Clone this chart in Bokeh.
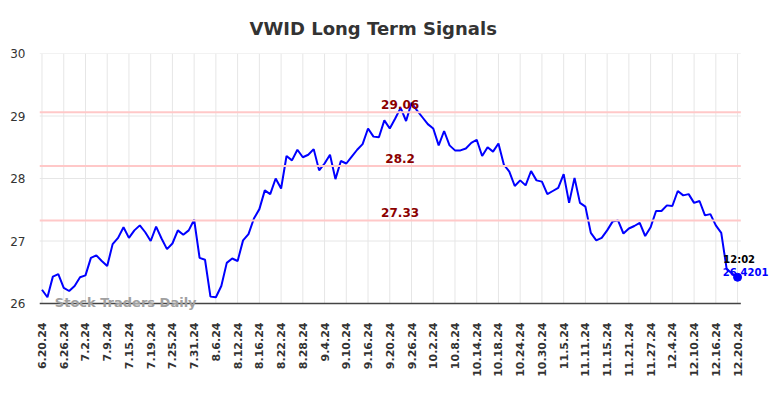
from bokeh.plotting import figure
from bokeh.models import Range1d, Label, FixedTicker
from bokeh.embed import file_html
from bokeh.resources import INLINE

tick_labels = ["6.20.24", "6.26.24", "7.2.24", "7.9.24", "7.15.24", "7.19.24", "7.25.24", "7.31.24",
               "8.6.24", "8.12.24", "8.16.24", "8.22.24", "8.28.24", "9.4.24", "9.10.24", "9.16.24",
               "9.20.24", "9.26.24", "10.2.24", "10.8.24", "10.14.24", "10.18.24", "10.24.24", "10.30.24",
               "11.5.24", "11.11.24", "11.15.24", "11.21.24", "11.27.24", "12.4.24", "12.10.24", "12.16.24",
               "12.20.24"]
days_per_tick = 4

prices = [26.22, 26.10, 26.43, 26.47, 26.25, 26.20, 26.28, 26.42, 26.45, 26.73,
          26.77, 26.68, 26.60, 26.95, 27.05, 27.22, 27.05, 27.17, 27.25, 27.14,
          27.00, 27.23, 27.04, 26.87, 26.96, 27.17, 27.10, 27.17, 27.34, 26.73,
          26.70, 26.11, 26.10, 26.28, 26.65, 26.72, 26.68, 27.01, 27.11, 27.36,
          27.51, 27.81, 27.75, 28.00, 27.84, 28.36, 28.29, 28.46, 28.34, 28.38,
          28.47, 28.13, 28.24, 28.38, 27.99, 28.28, 28.24, 28.35, 28.46, 28.55,
          28.80, 28.67, 28.66, 28.93, 28.80, 28.96, 29.13, 28.92, 29.21, 29.09,
          28.98, 28.87, 28.80, 28.53, 28.76, 28.53, 28.45, 28.45, 28.48, 28.57,
          28.62, 28.36, 28.50, 28.43, 28.56, 28.22, 28.11, 27.88, 27.97, 27.89,
          28.12, 27.97, 27.95, 27.75, 27.80, 27.85, 28.07, 27.61, 28.01, 27.61,
          27.55, 27.13, 27.01, 27.05, 27.17, 27.31, 27.33, 27.12, 27.20, 27.24,
          27.29, 27.08, 27.22, 27.48, 27.48, 27.57, 27.56, 27.80, 27.73, 27.75,
          27.61, 27.64, 27.41, 27.43, 27.25, 27.13, 26.55, 26.48, 26.42]

signal_levels = [29.06, 28.2, 27.33]
last_time = "12:02"
last_value_text = "26.4201"
y_ticks = [26, 27, 28, 29, 30]

xs = list(range(len(prices)))
tick_pos = [i * days_per_tick for i in range(len(tick_labels))]

FONT = "DejaVu Sans"

# visible plotting area (in data units); the frame is a bit larger so that
# end-of-series labels and the watermark are not clipped
X_LO, X_HI = -0.46, 128.6
Y_LO, Y_HI = y_ticks[0], y_ticks[-1]

p = figure(width=774, height=382, output_backend="svg", toolbar_location=None,
           x_range=Range1d(X_LO, X_LO + 734 / 5.434), y_range=Range1d(Y_LO - 8 / 62.5, Y_HI),
           min_border_left=39, min_border_right=1, min_border_top=53, min_border_bottom=71)
p.outline_line_color = None
p.background_fill_color = "white"
p.border_fill_color = "white"

p.title.text = "VWID Long Term Signals"
p.title.text_font = FONT
p.title.text_font_size = "18px"
p.title.text_font_style = "bold"
p.title.text_color = "#333333"
p.title.align = "left"
p.title.offset = 210
p.title.standoff = 30

# axes
p.xaxis.ticker = FixedTicker(ticks=tick_pos)
p.xaxis.major_label_overrides = {t: l for t, l in zip(tick_pos, tick_labels)}
p.xaxis.major_label_orientation = 1.5708
p.xaxis.major_label_text_font = FONT
p.xaxis.major_label_text_font_size = "11px"
p.xaxis.major_label_text_font_style = "bold"
p.xaxis.major_label_text_color = "#333333"
p.xaxis.major_tick_line_color = None
p.xaxis.minor_tick_line_color = None
p.xaxis.major_tick_out = 0
p.xaxis.minor_tick_out = 0
p.xaxis.major_label_standoff = 11
p.xaxis.axis_line_color = None

p.yaxis.ticker = FixedTicker(ticks=y_ticks)
p.yaxis.major_label_text_font = FONT
p.yaxis.major_label_text_font_size = "12px"
p.yaxis.major_label_text_color = "#333333"
p.yaxis.axis_line_color = None
p.yaxis.major_tick_line_color = None
p.yaxis.minor_tick_line_color = None
p.yaxis.major_tick_out = 0
p.yaxis.minor_tick_out = 0
p.yaxis.major_label_standoff = 14

p.xgrid.visible = False
p.ygrid.visible = False

# grid lines limited to the visible plotting area
p.segment(x0=tick_pos, y0=[Y_LO] * len(tick_pos), x1=tick_pos, y1=[Y_HI] * len(tick_pos),
          line_color="#e6e6e6", line_width=1)
p.segment(x0=[X_LO] * len(y_ticks), y0=y_ticks, x1=[X_HI] * len(y_ticks), y1=y_ticks,
          line_color="#e6e6e6", line_width=1)

p.line(xs, prices, line_color="#0000ff", line_width=2)

# signal levels (drawn over the price line)
p.segment(x0=[X_LO] * len(signal_levels), y0=signal_levels, x1=[X_HI] * len(signal_levels),
          y1=signal_levels, line_color="#ffc8c8", line_width=2)
for lv in signal_levels:
    p.add_layout(Label(x=65.9, y=lv, text=f"{lv:g}", text_align="center", text_baseline="alphabetic",
                       y_offset=8, text_font=FONT, text_font_size="12px", text_font_style="bold",
                       text_color="#8b0000"))

# bottom axis line at the lowest tick
p.segment(x0=[X_LO], y0=[Y_LO], x1=[X_HI], y1=[Y_LO], line_color="#444444", line_width=1.3)

p.scatter([xs[-1]], [prices[-1]], size=8, color="#0000ff")
p.add_layout(Label(x=xs[-1], y=prices[-1], text=last_time, x_offset=-14.3, y_offset=18,
                   text_baseline="middle", text_align="left", text_font=FONT, text_font_size="10px",
                   text_font_style="bold", text_color="#000000"))
p.add_layout(Label(x=xs[-1], y=prices[-1], text=last_value_text, x_offset=-14.7, y_offset=5,
                   text_baseline="middle", text_align="left", text_font=FONT, text_font_size="10px",
                   text_font_style="bold", text_color="#0000ff"))

p.add_layout(Label(x=xs[0], y=Y_LO, text="Stock Traders Daily", x_offset=12.8, y_offset=1,
                   text_baseline="alphabetic", text_align="left", text_font=FONT, text_font_size="13px",
                   text_font_style="bold", text_color="#a0a0a0"))

open("out.html", "w").write(file_html(p, INLINE))
